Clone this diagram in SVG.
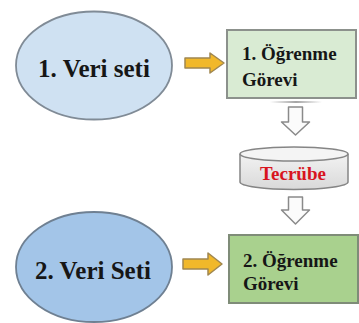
<svg xmlns="http://www.w3.org/2000/svg" width="359" height="323" viewBox="0 0 359 323">
  <defs>
    <style>
      .label { font-family: "Liberation Serif", "Times New Roman", serif; font-weight: bold; fill: #161616; }
      .big { font-size: 25px; }
      .small { font-size: 19px; }
      .red { fill: #d8141e; }
      .yarrow { fill: #f1b82a; stroke: #a08750; stroke-width: 1.5; stroke-linejoin: round; }
      .garrow { fill: #fbfbfb; stroke: #8a8a8a; stroke-width: 1.5; stroke-linejoin: round; }
    </style>
    <linearGradient id="cylFill" x1="0" y1="0" x2="0" y2="1">
      <stop offset="0" stop-color="#f2f2f2"/>
      <stop offset="1" stop-color="#d9d9d9"/>
    </linearGradient>
    <linearGradient id="shadowFade" x1="0" y1="0" x2="1" y2="0">
      <stop offset="0" stop-color="#9a9a9a" stop-opacity="0"/>
      <stop offset="0.5" stop-color="#9a9a9a" stop-opacity="0.9"/>
      <stop offset="1" stop-color="#9a9a9a" stop-opacity="0"/>
    </linearGradient>
  </defs>

  <rect width="359" height="323" fill="#ffffff"/>

  <!-- data set 1 -->
  <g id="veri-seti-1">
    <ellipse cx="94" cy="65.5" rx="78" ry="54" fill="#cfe1f2" stroke="#808b96" stroke-width="1.8"/>
    <text class="label big" x="94" y="77" text-anchor="middle">1. Veri seti</text>
  </g>

  <!-- learning task 1 -->
  <g id="ogrenme-gorevi-1">
    <rect x="227" y="30" width="129" height="68" fill="#d9ebd3" stroke="#8c918c" stroke-width="2"/>
    <text class="label small" x="242" y="60">1. Öğrenme</text>
    <text class="label small" x="242" y="86">Görevi</text>
    <rect x="270" y="101" width="52" height="2" fill="url(#shadowFade)"/>
  </g>

  <!-- experience store -->
  <g id="tecrube">
    <path d="M240,154 L240,182 A54,7.5 0 0 0 348,182 L348,154" fill="url(#cylFill)" stroke="#858585" stroke-width="1.5"/>
    <ellipse cx="294" cy="154" rx="54" ry="7" fill="#f4f4f4" stroke="#858585" stroke-width="1.5"/>
    <text class="label small red" x="293" y="180" text-anchor="middle">Tecrübe</text>
  </g>

  <!-- data set 2 -->
  <g id="veri-seti-2">
    <ellipse cx="94" cy="267" rx="78" ry="55" fill="#a3c5e8" stroke="#6f8092" stroke-width="1.8"/>
    <text class="label big" x="93" y="279" text-anchor="middle">2. Veri Seti</text>
  </g>

  <!-- learning task 2 -->
  <g id="ogrenme-gorevi-2">
    <rect x="229" y="235" width="129" height="68" fill="#a9d18e" stroke="#7f8c78" stroke-width="2"/>
    <text class="label small" x="243" y="267">2. Öğrenme</text>
    <text class="label small" x="243" y="290">Görevi</text>
  </g>

  <!-- block arrows -->
  <g id="connectors">
    <path class="yarrow" d="M185,58 L210,58 L210,53 L224,63 L210,73 L210,68 L185,68 Z"/>
    <path class="yarrow" d="M183,259 L208,259 L208,253 L222,264 L208,275 L208,269 L183,269 Z"/>
    <path class="garrow" d="M288.5,107 L302.5,107 L302.5,122 L309.5,122 L295.5,135 L281.5,122 L288.5,122 Z"/>
    <path class="garrow" d="M288.5,197 L302.5,197 L302.5,210 L309.5,210 L295.5,224 L281.5,210 L288.5,210 Z"/>
  </g>
</svg>
